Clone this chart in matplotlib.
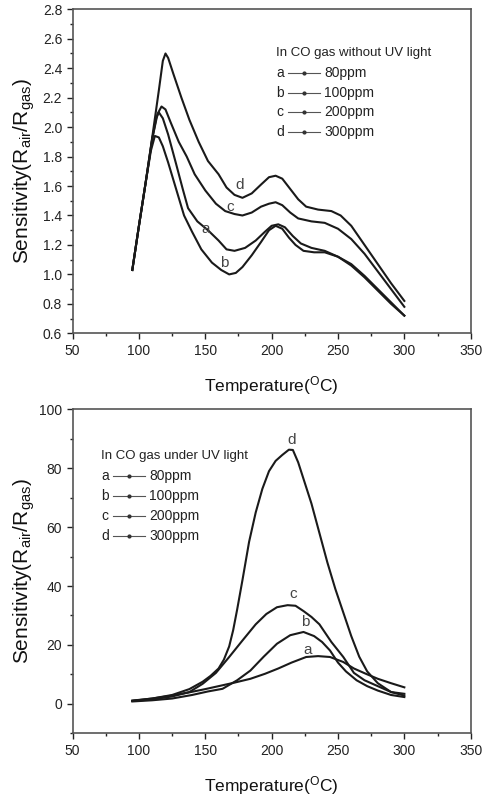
import matplotlib
matplotlib.use("Agg")
import matplotlib.pyplot as plt
from matplotlib.ticker import MultipleLocator

plt.rcParams['font.family'] = ['Liberation Sans', 'DejaVu Sans']
plt.rcParams['mathtext.fontset'] = 'custom'
plt.rcParams['mathtext.rm'] = 'Liberation Sans'
plt.rcParams['mathtext.it'] = 'Liberation Sans'

# ---- top panel: CO gas without UV light ----
top_a_t = [95, 100, 105, 110, 113, 115, 118, 122, 128, 133, 137, 144, 152, 160, 166, 172, 180, 188, 195, 200, 205,
           210, 216, 222, 230, 240, 250, 260, 270, 280, 290, 300]
top_a_s = [1.03, 1.33, 1.62, 1.92, 2.06, 2.10, 2.06, 1.95, 1.75, 1.58, 1.45, 1.36, 1.30, 1.23, 1.17, 1.16, 1.18, 1.23,
           1.29, 1.33, 1.34, 1.32, 1.26, 1.21, 1.18, 1.16, 1.12, 1.07, 0.99, 0.90, 0.81, 0.72]
top_b_t = [95, 100, 105, 109, 112, 115, 118, 122, 128, 134, 140, 147, 155, 162, 168, 173, 178, 185, 192, 198, 203,
           208, 213, 218, 224, 232, 240, 250, 260, 270, 280, 290, 300]
top_b_s = [1.03, 1.33, 1.62, 1.84, 1.94, 1.93, 1.87, 1.76, 1.58, 1.40, 1.29, 1.17, 1.08, 1.03, 1.00, 1.01, 1.05, 1.13,
           1.22, 1.30, 1.33, 1.31, 1.25, 1.20, 1.16, 1.15, 1.15, 1.12, 1.06, 0.98, 0.89, 0.80, 0.72]
top_c_t = [95, 100, 105, 110, 114, 117, 120, 124, 130, 136, 142, 150, 158, 165, 172, 178, 185, 192, 198, 203, 208,
           214, 220, 230, 240, 250, 260, 270, 280, 290, 300]
top_c_s = [1.03, 1.33, 1.62, 1.92, 2.09, 2.14, 2.12, 2.03, 1.90, 1.80, 1.68, 1.57, 1.48, 1.43, 1.41, 1.40, 1.42, 1.46,
           1.48, 1.49, 1.47, 1.42, 1.38, 1.36, 1.35, 1.31, 1.24, 1.14, 1.02, 0.90, 0.78]
top_d_t = [95, 100, 105, 110, 115, 118, 120, 122, 126, 132, 138, 145, 152, 160, 166, 172, 178, 185, 192, 198, 203,
           208, 214, 220, 226, 235, 245, 252, 260, 270, 280, 290, 300]
top_d_s = [1.03, 1.33, 1.62, 1.93, 2.25, 2.45, 2.50, 2.47, 2.36, 2.20, 2.05, 1.90, 1.77, 1.68, 1.59, 1.54, 1.52, 1.55,
           1.61, 1.66, 1.67, 1.65, 1.58, 1.51, 1.46, 1.44, 1.43, 1.40, 1.33, 1.20, 1.07, 0.94, 0.82]

# ---- bottom panel: CO gas under UV light ----
bot_a_t = [95, 110, 125, 138, 150, 162, 172, 184, 195, 205, 215, 226, 235, 244, 254, 262, 271, 280, 290, 300]
bot_a_s = [1.1, 1.8, 2.8, 3.9, 5.0, 6.2, 7.2, 8.5, 10.2, 12.0, 14.0, 15.9, 16.2, 15.9, 14.2, 12.0, 10.2, 8.5, 7.0, 5.6]
bot_b_t = [95, 110, 125, 140, 152, 163, 174, 184, 194, 204, 214, 224, 232, 238, 244, 250, 256, 264, 272, 280, 290, 300]
bot_b_s = [0.8, 1.2, 1.8, 3.0, 4.2, 5.1, 8.0, 11.3, 16.0, 20.4, 23.3, 24.4, 23.0, 21.0, 18.1, 14.0, 11.0, 8.0, 6.0,
           4.5, 3.0, 2.3]
bot_c_t = [95, 110, 125, 138, 148, 158, 168, 178, 188, 196, 204, 212, 218, 224, 230, 236, 245, 254, 262, 270, 276,
           290, 300]
bot_c_s = [1.0, 1.5, 2.5, 4.0, 6.8, 10.5, 15.9, 21.5, 27.0, 30.5, 32.8, 33.5, 33.3, 31.5, 29.5, 27.0, 21.0, 15.9, 10.5,
           8.0, 6.8, 4.0, 3.4]
bot_d_t = [95, 110, 125, 138, 148, 154, 160, 164, 168, 171, 174, 178, 183, 188, 193, 198, 203, 208, 213, 216, 220,
           225, 230, 236, 242, 248, 254, 260, 266, 272, 280, 290, 300]
bot_d_s = [1.0, 1.8, 3.0, 5.0, 7.5, 9.5, 12.0, 15.0, 19.5, 25.0, 32.0, 42.0, 55.0, 65.0, 73.0, 79.0, 82.5, 84.5, 86.3,
           86.2, 82.0, 75.0, 68.0, 58.0, 48.0, 39.0, 31.0, 23.0, 16.0, 11.0, 7.0, 4.0, 2.8]

letters = ['a', 'b', 'c', 'd']
conc = ['80ppm', '100ppm', '200ppm', '300ppm']
top_labels_xy = [(150.5, 1.31), (164, 1.08), (169, 1.46), (175.5, 1.61)]
bot_labels_xy = [(227, 18.4), (225, 27.8), (216, 37.4), (215, 89.6)]

fig = plt.figure(figsize=(4.84, 8.02), dpi=100)
ax1 = fig.add_axes([0.150, 0.5844, 0.8225, 0.404])
ax2 = fig.add_axes([0.150, 0.0857, 0.8225, 0.4039])

top_series = [(top_a_t, top_a_s), (top_b_t, top_b_s), (top_c_t, top_c_s), (top_d_t, top_d_s)]
bot_series = [(bot_a_t, bot_a_s), (bot_b_t, bot_b_s), (bot_c_t, bot_c_s), (bot_d_t, bot_d_s)]

for t, s in top_series:
    ax1.plot(t, s, color='#1a1a1a', lw=1.5)
for t, s in bot_series:
    ax2.plot(t, s, color='#1a1a1a', lw=1.5)

for (x, y), l in zip(top_labels_xy, letters):
    ax1.text(x, y, l, fontsize=11, color='#444444', ha='center', va='center')
for (x, y), l in zip(bot_labels_xy, letters):
    ax2.text(x, y, l, fontsize=11, color='#444444', ha='center', va='center')


def legend_block(ax, x0, y0, title, dy):
    ax.text(x0, y0, title, transform=ax.transAxes, fontsize=9.5, color='#222222',
            va='center', ha='left')
    for i, (l, c) in enumerate(zip(letters, conc)):
        y = y0 - dy * (i + 1)
        ax.text(x0, y, l, transform=ax.transAxes, fontsize=10, color='#222222', va='center')
        ax.plot([x0 + 0.03, x0 + 0.11], [y, y], transform=ax.transAxes, color='#555555',
                lw=0.8, clip_on=False)
        ax.plot([x0 + 0.07], [y], transform=ax.transAxes, color='#333333', marker='.',
                ms=4, clip_on=False)
        ax.text(x0 + 0.12, y, c, transform=ax.transAxes, fontsize=10, color='#222222', va='center')


legend_block(ax1, 0.512, 0.866, 'In CO gas without UV light', 0.0615)
legend_block(ax2, 0.072, 0.856, 'In CO gas under UV light', 0.0615)

for ax in (ax1, ax2):
    ax.set_xlim(50, 350)
    ax.xaxis.set_major_locator(MultipleLocator(50))
    ax.xaxis.set_minor_locator(MultipleLocator(25))
    ax.tick_params(which='both', direction='out', top=False, right=False,
                   labelsize=10, colors='#222222')
    ax.tick_params(which='major', length=4, width=1)
    ax.tick_params(which='minor', length=2.5, width=1)
    for sp in ax.spines.values():
        sp.set_linewidth(1.2)
        sp.set_color('#555555')
    ax.set_xlabel('Temperature($^{O}$C)', fontsize=12.5, color='#111111', labelpad=12)
    ax.set_ylabel(r'Sensitivity(R$_{\mathrm{air}}$/R$_{\mathrm{gas}}$)', fontsize=15,
                  color='#111111')
    ax.yaxis.set_label_coords(-0.09, 0.5)

ax1.set_ylim(0.6, 2.8)
ax1.yaxis.set_major_locator(MultipleLocator(0.2))
ax1.yaxis.set_minor_locator(MultipleLocator(0.1))
ax1.yaxis.set_major_formatter(plt.FormatStrFormatter('%.1f'))

ax2.set_ylim(-10, 100)
ax2.yaxis.set_major_locator(MultipleLocator(20))
ax2.yaxis.set_minor_locator(MultipleLocator(10))

fig.savefig('out.png', dpi=100)
